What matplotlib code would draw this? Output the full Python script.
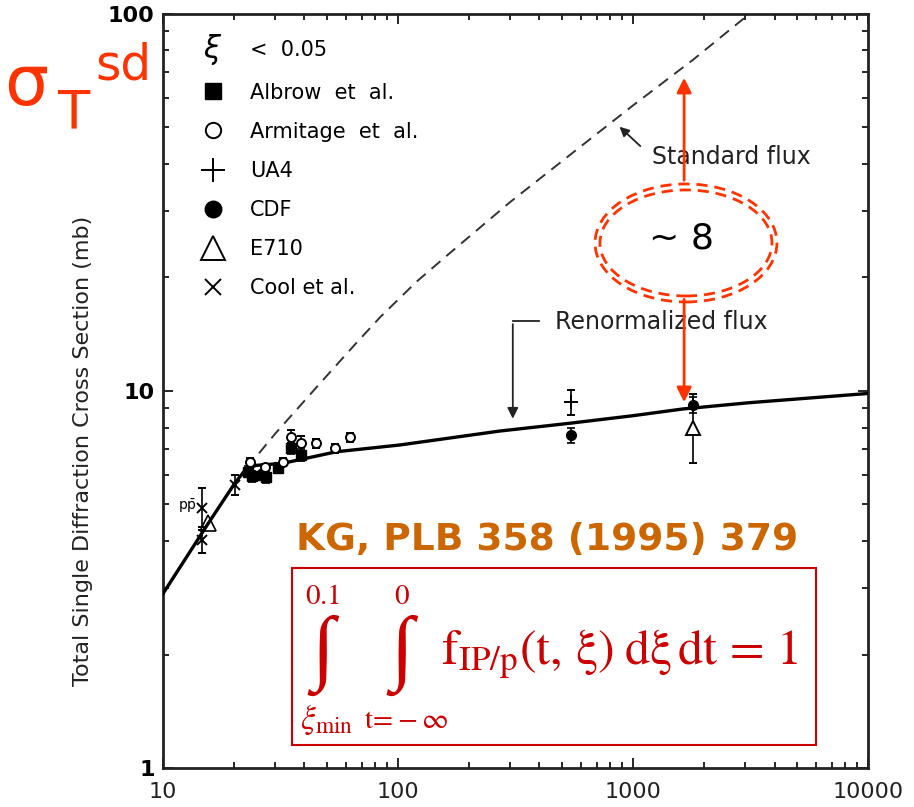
import matplotlib
matplotlib.use('Agg')
import matplotlib.pyplot as plt
from matplotlib.patches import Ellipse, Rectangle
from matplotlib.ticker import NullFormatter

# sqrt(s) in GeV, total single diffraction cross section in mb
renorm_E = [10, 15.6, 20.2, 22.7, 25, 32.4, 54.7, 101.6, 271, 537, 1000, 1629, 3126, 10000]
renorm_sig = [2.9, 4.46, 5.69, 6.24, 6.35, 6.43, 6.90, 7.19, 7.83, 8.21, 8.6, 8.96, 9.31, 9.85]

std_E = [22.7, 30, 48, 65, 84, 120, 166, 300, 593, 1000, 1796, 3125, 4000]
std_sig = [6.24, 7.7, 10.7, 13.2, 15.7, 19.5, 23.2, 31.7, 44.3, 57.2, 75.5, 100, 113]

albrow_E = [23.1, 24.0, 26.7, 27.5, 30.9, 35.2, 38.8]
albrow_sig = [6.11, 5.95, 5.99, 5.9, 6.26, 7.05, 6.77]
albrow_err = [0.2, 0.2, 0.2, 0.2, 0.2, 0.25, 0.25]

armitage_E = [23.4, 27.2, 32.3, 35.2, 38.8, 45.0, 53.8, 62.4]
armitage_sig = [6.49, 6.27, 6.49, 7.57, 7.26, 7.28, 7.05, 7.53]
armitage_err = [0.15, 0.15, 0.15, 0.3, 0.35, 0.2, 0.2, 0.2]

ua4_E = [546]
ua4_sig = [9.36]
ua4_err = [0.7]

cdf_E = [546, 1800]
cdf_sig = [7.64, 9.18]
cdf_err = [0.35, 0.45]

e710_E = [1800]
e710_sig = [7.96]
e710_lo = [1.53]
e710_hi = [1.84]

cool_E = [14.7, 14.7, 20.2]
cool_sig = [4.89, 4.02, 5.63]
cool_lo = [0.53, 0.31, 0.33]
cool_hi = [0.63, 0.26, 0.35]

ppbar_E = [15.6]
ppbar_sig = [4.46]

# ratio arrows between the two flux curves
ratio_E = 1650
ratio_up = (35.6, 68.9)
ratio_down = (17.8, 9.18)

RED = '#ff3300'
DARKRED = '#cc0000'
ORANGE = '#cc6600'
SERIF = ['Liberation Serif', 'DejaVu Serif']

fig = plt.figure(figsize=(9.14, 8.07), dpi=100)
ax = fig.add_axes([0.1783, 0.0483, 0.7714, 0.9344])

ax.set_xscale('log')
ax.set_yscale('log')
ax.set_xlim(10, 10000)
ax.set_ylim(1, 100)

# flux curves
ax.plot(renorm_E, renorm_sig, color='black', lw=2.4, zorder=3)
ax.plot(std_E, std_sig, color='#333333', lw=1.4, dashes=(6, 4), zorder=3)

# data
eb = dict(ecolor='black', elinewidth=1.2, capsize=3, capthick=1.2, ls='none', zorder=4)
h_alb = ax.errorbar(albrow_E, albrow_sig, yerr=albrow_err, fmt='s', color='black',
                    ms=6.5, label='Albrow  et  al.', **eb)
h_arm = ax.errorbar(armitage_E, armitage_sig, yerr=armitage_err, fmt='o', mfc='white',
                    mec='black', mew=1.4, ms=6.5, label='Armitage  et  al.', **eb)
h_ua4 = ax.errorbar(ua4_E, ua4_sig, yerr=ua4_err, fmt='+', color='black', mew=1.4,
                    ms=10, label='UA4', **eb)
h_cdf = ax.errorbar(cdf_E, cdf_sig, yerr=cdf_err, fmt='o', color='black', ms=7,
                    label='CDF', **eb)
h_e710 = ax.errorbar(e710_E, e710_sig, yerr=[e710_lo, e710_hi], fmt='^', mfc='white',
                     mec='black', mew=1.4, ms=10, label='E710', **eb)
h_cool = ax.errorbar(cool_E, cool_sig, yerr=[cool_lo, cool_hi], fmt='x', color='black',
                     mew=1.4, ms=7, label='Cool et al.', **eb)
ax.plot(ppbar_E, ppbar_sig, ls='none', marker='^', mfc='none', mec='black', mew=1.2,
        ms=11, zorder=4)
ax.text(14.0, 4.95, r'$\mathrm{p\bar{p}}$', ha='right', va='center', fontsize=10)

# legend shows the plain markers only, no error bars
handles = (h_alb, h_arm, h_ua4, h_cdf, h_e710, h_cool)
ax.legend([h[0] for h in handles], [h.get_label() for h in handles],
          loc='upper left', bbox_to_anchor=(0.056, 0.909),
          frameon=False, fontsize=15, borderpad=0, borderaxespad=0,
          handlelength=1.0, handletextpad=1.28, labelspacing=0.92, markerscale=1.7)
ax.text(0.071, 0.9527, r'$\xi$', transform=ax.transAxes, fontsize=22, ha='center',
        va='center')
ax.text(0.124, 0.9527, '<  0.05', transform=ax.transAxes, fontsize=15, va='center')

# curve labels
ax.text(0.694, 0.810, 'Standard flux', transform=ax.transAxes, fontsize=17,
        va='center', color='#222222')
ax.annotate('', xy=(859, 50.8), xytext=(1096, 44.1),
            arrowprops=dict(arrowstyle='-|>', color='#222222', lw=1.3,
                            mutation_scale=14))
ax.text(0.556, 0.5915, 'Renormalized flux', transform=ax.transAxes, fontsize=17,
        va='center', color='#222222')
ax.plot([308, 400], [15.3, 15.3], color='#222222', lw=1.3)
ax.annotate('', xy=(308, 8.3), xytext=(308, 15.3),
            arrowprops=dict(arrowstyle='-|>', color='#222222', lw=1.3,
                            mutation_scale=16))

# ratio between standard and renormalized flux
ax.annotate('', xy=(ratio_E, ratio_up[1]), xytext=(ratio_E, ratio_up[0]),
            arrowprops=dict(arrowstyle='-|>', color=RED, lw=2, mutation_scale=22))
ax.annotate('', xy=(ratio_E, ratio_down[1]), xytext=(ratio_E, ratio_down[0]),
            arrowprops=dict(arrowstyle='-|>', color=RED, lw=2, mutation_scale=22))
for w, h in [(0.258, 0.1565), (0.244, 0.1406)]:
    ax.add_patch(Ellipse((0.7418, 0.6963), w, h, transform=ax.transAxes, fill=False,
                         ec=RED, lw=2, ls=(0, (4, 2.5)), zorder=5))
ax.text(0.736, 0.7016, '~ 8', transform=ax.transAxes, fontsize=26, ha='center',
        va='center')

# reference and normalisation condition
ax.text(0.545, 0.302, 'KG, PLB 358 (1995) 379', transform=ax.transAxes, fontsize=27,
        fontweight='bold', color=ORANGE, ha='center', va='center')
ax.add_patch(Rectangle((0.183, 0.0305), 0.743, 0.2347, transform=ax.transAxes,
                       fill=False, ec=DARKRED, lw=1.5, zorder=5))
mt = dict(transform=ax.transAxes, color=DARKRED, math_fontfamily='stix', ha='center',
          va='center')
ax.text(0.226, 0.228, r'$\mathrm{0.1}$', fontsize=21, **mt)
ax.text(0.226, 0.150, '\u222b', fontsize=60, transform=ax.transAxes, color=DARKRED,
        family=SERIF, ha='center', va='center')
ax.text(0.232, 0.064, r'$\xi_{\mathrm{min}}$', fontsize=24, **mt)
ax.text(0.339, 0.228, r'$\mathrm{0}$', fontsize=21, **mt)
ax.text(0.339, 0.150, '\u222b', fontsize=60, transform=ax.transAxes, color=DARKRED,
        family=SERIF, ha='center', va='center')
ax.text(0.345, 0.064, r'$\mathrm{t\!=\!-\infty}$', fontsize=21, **mt)
ax.text(0.395, 0.150, r'$\mathrm{f_{IP/p}(t,\,\xi)\;d\xi\,dt\,=\,1}$', fontsize=36,
        transform=ax.transAxes, color=DARKRED, math_fontfamily='stix', ha='left',
        va='center')

# axes styling
ax.set_xticks([10, 100, 1000, 10000])
ax.set_xticklabels(['10', '100', '1000', '10000'], fontsize=16, color='#222222')
ax.set_yticks([1, 10, 100])
ax.set_yticklabels(['1', '10', '100'], fontsize=16, fontweight='bold')
ax.xaxis.set_minor_formatter(NullFormatter())
ax.yaxis.set_minor_formatter(NullFormatter())
ax.tick_params(which='both', direction='in', top=True, right=True, width=1.2)
ax.tick_params(which='major', length=7)
ax.tick_params(which='minor', length=4)
ax.tick_params(axis='x', pad=10)
ax.tick_params(axis='y', pad=6)
for sp in ax.spines.values():
    sp.set_linewidth(2)
    sp.set_color('#222222')

fig.text(0.091, 0.441, 'Total Single Diffraction Cross Section (mb)', rotation=90,
         fontsize=16, ha='center', va='center', color='#222222')

# sigma_T^sd label
fig.text(0.004, 1 - 105 / 807, '\u03c3', fontsize=50, color=RED, va='baseline')
fig.text(0.062, 1 - 128 / 807, 'T', fontsize=38, color=RED, va='baseline')
fig.text(0.104, 1 - 80 / 807, 'sd', fontsize=35, color=RED, va='baseline')

fig.savefig('out.png', dpi=100)
